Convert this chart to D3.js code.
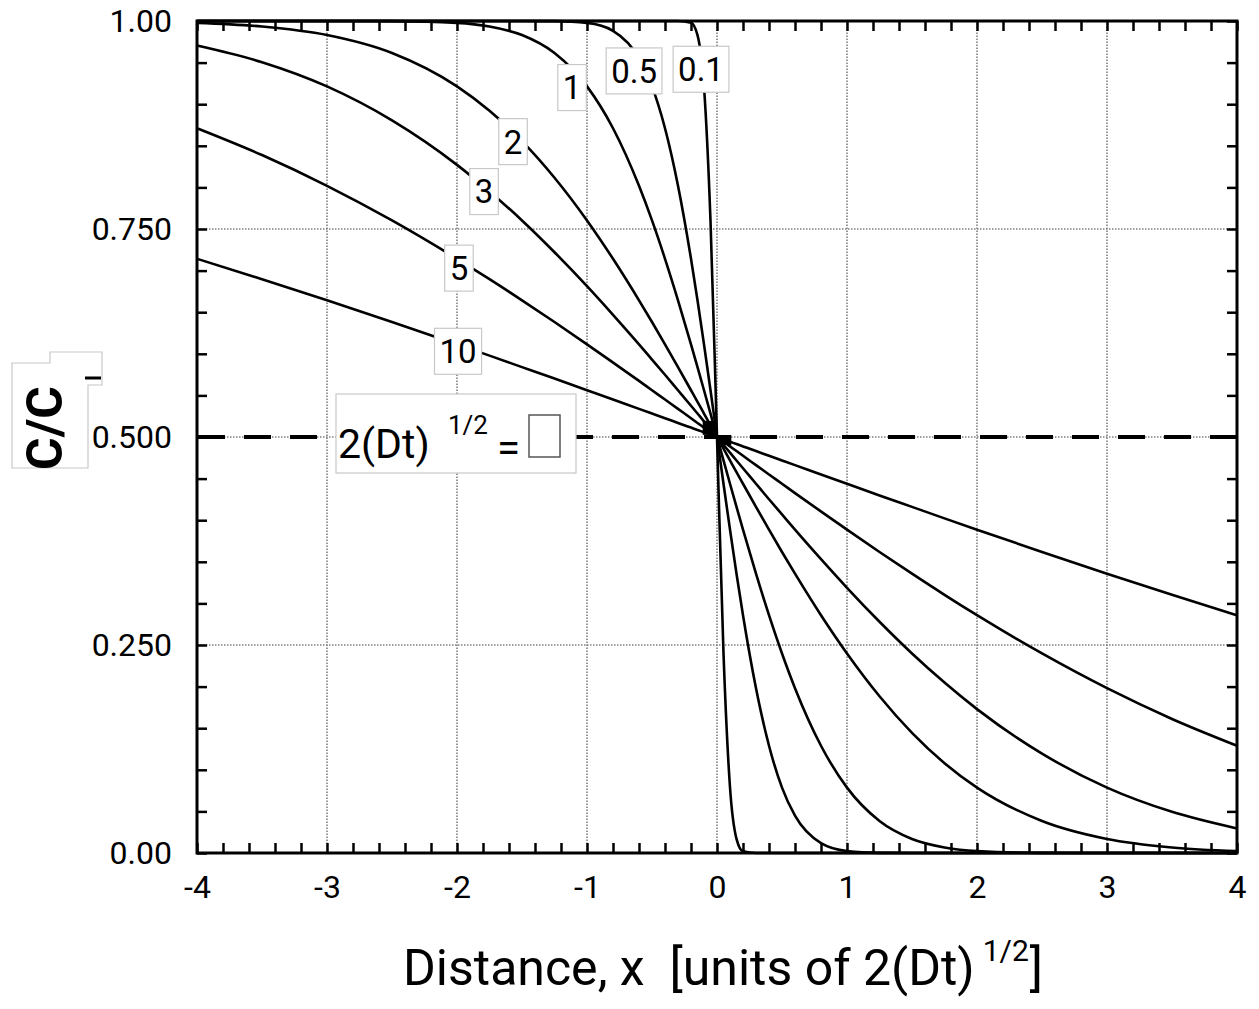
<!DOCTYPE html>
<html>
<head>
<meta charset="utf-8">
<script src="https://cdn.jsdelivr.net/npm/d3@7.9.0/dist/d3.min.js"></script>
<style>
  html, body { margin: 0; padding: 0; background: #fff; }
  svg { display: block; font-family: Roboto, "Liberation Sans", sans-serif; }
</style>
</head>
<body>
<svg id="chart" width="1259" height="1009"></svg>
<script>
// x positions, in units of 2(Dt)^1/2
const xs = [-4, -3.5, -3, -2.5, -2, -1.75, -1.5, -1.25, -1, -0.8, -0.6, -0.5, -0.4, -0.3, -0.2, -0.15, -0.1, -0.05, 0,
            0.05, 0.1, 0.15, 0.2, 0.3, 0.4, 0.5, 0.6, 0.8, 1, 1.25, 1.5, 1.75, 2, 2.5, 3, 3.5, 4];

// C/Co at xs
const c01 = [1, 1, 1, 1, 1, 1, 1, 1, 1, 1, 1, 1, 1, 1, 0.998, 0.983, 0.921, 0.760, 0.5,
             0.240, 0.079, 0.017, 0.002, 0, 0, 0, 0, 0, 0, 0, 0, 0, 0, 0, 0, 0, 0];
const c05 = [1, 1, 1, 1, 1, 1, 1, 0.9998, 0.9977, 0.9882, 0.9552, 0.9214, 0.8711, 0.8020, 0.7142, 0.6643, 0.6114, 0.5562, 0.5,
             0.4438, 0.3886, 0.3357, 0.2858, 0.1981, 0.1289, 0.0786, 0.0448, 0.0118, 0.0023, 0.0002, 0, 0, 0, 0, 0, 0, 0];
const c1  = [1, 1, 1, 0.9998, 0.9977, 0.9933, 0.9831, 0.9615, 0.9214, 0.8711, 0.8019, 0.7603, 0.7142, 0.6643, 0.6114, 0.5840, 0.5562, 0.5282, 0.5,
             0.4718, 0.4438, 0.4160, 0.3886, 0.3357, 0.2858, 0.2398, 0.1981, 0.1289, 0.0786, 0.0385, 0.0169, 0.0067, 0.0023, 0.0002, 0, 0, 0];
const c2  = [0.9977, 0.9933, 0.9831, 0.9615, 0.9214, 0.8921, 0.8556, 0.8116, 0.7603, 0.7142, 0.6643, 0.6382, 0.6114, 0.5840, 0.5562, 0.5423, 0.5282, 0.5141, 0.5,
             0.4859, 0.4718, 0.4577, 0.4438, 0.4160, 0.3886, 0.3618, 0.3357, 0.2858, 0.2398, 0.1884, 0.1444, 0.1079, 0.0786, 0.0385, 0.0169, 0.0067, 0.0023];
const c3  = [0.9705, 0.9505, 0.9214, 0.8806, 0.8271, 0.7952, 0.7603, 0.7221, 0.6813, 0.6469, 0.6114, 0.5931, 0.5748, 0.5562, 0.5376, 0.5282, 0.5188, 0.5094, 0.5,
             0.4906, 0.4812, 0.4718, 0.4624, 0.4438, 0.4252, 0.4069, 0.3886, 0.3531, 0.3187, 0.2779, 0.2398, 0.2048, 0.1729, 0.1194, 0.0786, 0.0495, 0.0295];
const c5  = [0.8711, 0.8389, 0.8019, 0.7603, 0.7142, 0.6897, 0.6643, 0.6382, 0.6114, 0.5895, 0.5674, 0.5562, 0.5451, 0.5338, 0.5226, 0.5169, 0.5113, 0.5056, 0.5,
             0.4944, 0.4887, 0.4831, 0.4774, 0.4662, 0.4549, 0.4438, 0.4326, 0.4105, 0.3886, 0.3618, 0.3357, 0.3103, 0.2858, 0.2398, 0.1981, 0.1611, 0.1289];
const c10 = [0.7142, 0.6897, 0.6643, 0.6382, 0.6114, 0.5978, 0.5840, 0.5702, 0.5562, 0.5451, 0.5338, 0.5282, 0.5226, 0.5169, 0.5113, 0.5085, 0.5056, 0.5028, 0.5,
             0.4972, 0.4944, 0.4915, 0.4887, 0.4831, 0.4774, 0.4718, 0.4662, 0.4549, 0.4438, 0.4298, 0.4160, 0.4022, 0.3886, 0.3618, 0.3357, 0.3103, 0.2858];

const curveNames = ["0.1", "0.5", "1", "2", "3", "5", "10"];
const curveValues = [c01, c05, c1, c2, c3, c5, c10];

const xTickLabels = [-4, -3, -2, -1, 0, 1, 2, 3, 4];
const yTickLabels = [0, 0.25, 0.5, 0.75, 1];
const yTickText = ["0.00", "0.250", "0.500", "0.750", "1.00"];

// where each curve label box sits (data units)
const labelSpots = [[-0.123, 0.942], [-0.638, 0.940], [-1.115, 0.920], [-1.569, 0.855],
                    [-1.792, 0.795], [-1.985, 0.703], [-1.992, 0.603]];

const svg = d3.select("#chart");
const plot = { left: 197, right: 1237, top: 21, bottom: 853 };

const x = d3.scaleLinear().domain([-4, 4]).range([plot.left, plot.right]);
const y = d3.scaleLinear().domain([0, 1]).range([plot.bottom, plot.top]);

// grid lines (dotted)
const grid = svg.append("g").attr("stroke", "#808080").attr("stroke-width", 1.6)
    .attr("stroke-dasharray", "1.5,1.5");
[-3, -2, -1, 0, 1, 2, 3].forEach(v => {
    grid.append("line").attr("x1", x(v)).attr("x2", x(v)).attr("y1", y(0)).attr("y2", y(1));
});
[0.25, 0.5, 0.75].forEach(v => {
    grid.append("line").attr("x1", x(-4)).attr("x2", x(4)).attr("y1", y(v)).attr("y2", y(v));
});

// dashed line at C/Co = 0.5
svg.append("line")
    .attr("x1", x(-4)).attr("x2", x(4))
    .attr("y1", y(0.5)).attr("y2", y(0.5))
    .attr("stroke", "#000").attr("stroke-width", 4)
    .attr("stroke-dasharray", "27,19").attr("stroke-dashoffset", -1);

// curves
const line = d3.line()
    .x((d, i) => x(xs[i]))
    .y(d => y(d))
    .curve(d3.curveMonotoneX);

svg.append("g").selectAll("path")
    .data(curveValues)
    .enter()
    .append("path")
    .attr("d", d => line(d))
    .attr("fill", "none")
    .attr("stroke", "#000")
    .attr("stroke-width", 2.6)
    .attr("stroke-linejoin", "round");

// the dense knot where all curves cross at (0, 0.5)
svg.append("rect")
    .attr("x", x(-0.11)).attr("y", y(0.505) - 12)
    .attr("width", x(0) - x(-0.11)).attr("height", 14).attr("fill", "#000");
svg.append("rect")
    .attr("x", x(0)).attr("y", y(0.5) - 2)
    .attr("width", x(0.11) - x(0)).attr("height", 10).attr("fill", "#000");

// inward ticks on all four sides
const xMinor = d3.range(-4, 4.001, 0.2).map(v => +v.toFixed(2));
const yMinor = d3.range(0, 1.0001, 0.05).map(v => +v.toFixed(2));

function tickStyle(g) {
    g.select(".domain").remove();
    g.selectAll(".tick line").attr("stroke", "#000").attr("stroke-width", 2.5);
}
svg.append("g").attr("transform", `translate(0,${plot.bottom})`)
    .call(d3.axisBottom(x).tickValues(xMinor).tickSize(-10).tickFormat("")).call(tickStyle);
svg.append("g").attr("transform", `translate(0,${plot.top})`)
    .call(d3.axisTop(x).tickValues(xMinor).tickSize(-10).tickFormat("")).call(tickStyle);
svg.append("g").attr("transform", `translate(${plot.left},0)`)
    .call(d3.axisLeft(y).tickValues(yMinor).tickSize(-10).tickFormat("")).call(tickStyle);
svg.append("g").attr("transform", `translate(${plot.right},0)`)
    .call(d3.axisRight(y).tickValues(yMinor).tickSize(-10).tickFormat("")).call(tickStyle);

// frame
svg.append("rect")
    .attr("x", plot.left).attr("y", plot.top)
    .attr("width", plot.right - plot.left).attr("height", plot.bottom - plot.top)
    .attr("fill", "none").attr("stroke", "#000").attr("stroke-width", 3);

// tick labels
const xLab = svg.append("g").attr("transform", `translate(0,${plot.bottom})`)
    .call(d3.axisBottom(x).tickValues(xTickLabels).tickSize(0).tickPadding(22).tickFormat(d => String(d)));
xLab.select(".domain").remove();
xLab.selectAll("text").attr("font-size", 32).attr("font-family", "Roboto").attr("fill", "#000");

const yLab = svg.append("g").attr("transform", `translate(${plot.left},0)`)
    .call(d3.axisLeft(y).tickValues(yTickLabels).tickSize(0).tickPadding(25)
        .tickFormat((d, i) => yTickText[i]));
yLab.select(".domain").remove();
yLab.selectAll("text").attr("font-size", 32).attr("font-family", "Roboto").attr("fill", "#000");

// curve labels in boxes
const labels = svg.append("g").selectAll("g")
    .data(curveNames)
    .enter()
    .append("g")
    .attr("transform", (d, i) => `translate(${x(labelSpots[i][0])},${y(labelSpots[i][1])})`);
labels.append("rect").attr("fill", "#fff").attr("stroke", "#c8c8c8").attr("stroke-width", 1.2);
labels.append("text")
    .attr("text-anchor", "middle")
    .attr("dy", "0.36em")
    .attr("font-size", 33)
    .text(d => d);
labels.each(function() {
    const g = d3.select(this);
    const bb = g.select("text").node().getBBox();
    g.select("rect")
        .attr("x", bb.x - 5).attr("y", -23)
        .attr("width", bb.width + 10).attr("height", 46);
});

// legend box: 2(Dt)^1/2 = [ ]
const leg = svg.append("g");
leg.append("rect").attr("x", 336).attr("y", 394).attr("width", 240).attr("height", 79)
    .attr("fill", "#fff").attr("stroke", "#c8c8c8").attr("stroke-width", 1.2);
leg.append("text").attr("x", 338).attr("y", 458).attr("font-size", 41).text("2(Dt)");
leg.append("text").attr("x", 448).attr("y", 434).attr("font-size", 26).text("1/2");
leg.append("text").attr("x", 497).attr("y", 462).attr("font-size", 42).text("=");
leg.append("rect").attr("x", 529).attr("y", 415).attr("width", 31).attr("height", 42)
    .attr("fill", "#fff").attr("stroke", "#555").attr("stroke-width", 1.5);

// y axis title C/Co
const yt = svg.append("g");
yt.append("path")
    .attr("d", "M12,363 L50,363 L50,352 L102,352 L102,385 L88,385 L88,468 L12,468 Z")
    .attr("fill", "#fff").attr("stroke", "#c8c8c8").attr("stroke-width", 1.2);
yt.append("text")
    .attr("transform", "translate(62,428) rotate(-90)")
    .attr("text-anchor", "middle")
    .attr("font-size", 50).attr("font-weight", "bold")
    .text("C/C");
yt.append("line").attr("x1", 85).attr("x2", 101).attr("y1", 378).attr("y2", 378)
    .attr("stroke", "#000").attr("stroke-width", 3);

// x axis title
const xt = svg.append("text")
    .attr("x", 403).attr("y", 985)
    .attr("font-size", 50)
    .style("white-space", "pre");
xt.append("tspan").text("Distance, x  [units of 2(Dt)");
xt.append("tspan").attr("dx", 8).attr("dy", -24).attr("font-size", 30).text("1/2");
xt.append("tspan").attr("dx", 1).attr("dy", 24).text("]");
</script>
</body>
</html>
